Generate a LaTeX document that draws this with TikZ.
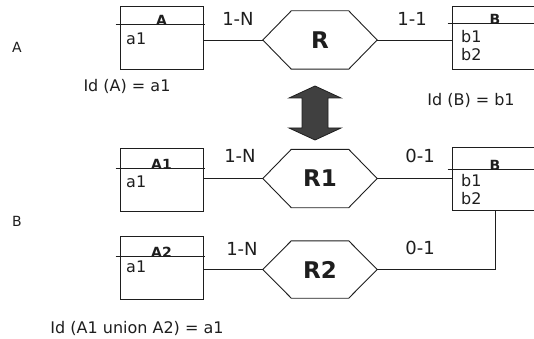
\documentclass[tikz,border=0pt]{standalone}
\usepackage{fontspec}
\setmainfont{DejaVu Sans}
\usetikzlibrary{calc}
\definecolor{ink}{HTML}{1e1e1e}
\begin{document}
\begin{tikzpicture}[x=1pt,y=-1pt,
  every node/.style={text=ink,inner sep=0pt},
  line/.style={draw=ink,line width=0.9pt},
  entbox/.style={line,minimum width=83pt,minimum height=63pt},
  entbig/.style={line,minimum width=86pt,minimum height=63pt},
  reln/.style={minimum width=114pt,minimum height=58pt,font=\fontsize{23}{23}\selectfont\bfseries},
  etitle/.style={anchor=base,font=\fontsize{14}{14}\selectfont\bfseries},
  attr/.style={anchor=west,align=left,font=\fontsize{16}{18}\selectfont},
  card/.style={font=\fontsize{18}{18}\selectfont},
  plain/.style={font=\fontsize{16}{16}\selectfont},
  side/.style={font=\fontsize{14}{14}\selectfont}]
\useasboundingbox (0,0) rectangle (534,339);

% ---------- part A ----------
\node[side] (lblA) at (17,47) {A};
\node[entbox] (A) at (161.5,37.5) {};
\draw[line] ([xshift=-4pt,yshift=-19pt]A.north west) -- ([xshift=2pt,yshift=-19pt]A.north east);
\node[etitle] (At) at ([yshift=-20pt]A.north) {A};
\node[attr] (Aa) at (126,38.5) {a1};

\node[reln] (R) at (320,40) {R};
\draw[line] (R.west) -- ([xshift=28.5pt]R.north west) -- ([xshift=-28.5pt]R.north east) -- (R.east) -- ([xshift=-28.5pt]R.south east) -- ([xshift=28.5pt]R.south west) -- cycle;

\node[entbig] (B) at (495,37.5) {};
\draw[line] ([xshift=-4pt,yshift=-18pt]B.north west) -- ([yshift=-18pt]B.north east);
\node[etitle] (Bt) at ([yshift=-19pt]B.north) {B};
\node[attr] (Bb) at (461,46) {b1\\b2};

\draw[line] (A.east |- R.west) -- (R.west);
\draw[line] (R.east) -- (B.west |- R.east);
\node[card] (c1) at (238,19) {1-N};
\node[card] (c2) at (412,19) {1-1};
\node[plain] (idA) at (127,86) {Id (A) = a1};
\node[plain] (idB) at (471,100) {Id (B) = b1};

% ---------- double arrow ----------
\coordinate (ut) at (315,86);
\coordinate (dt) at (315,140);
\filldraw[draw=ink,fill=ink!85,line width=0.8pt,line join=miter]
  (ut) -- (341,98) -- (328,98) -- (328,128) -- (341,128) -- (dt)
  -- (289,128) -- (302,128) -- (302,98) -- (289,98) -- cycle;

% ---------- part B ----------
\node[side] (lblB) at (17,221) {B};

\node[entbox] (A1) at (161.5,180) {};
\draw[line] ([xshift=-4pt,yshift=-20pt]A1.north west) -- ([xshift=2pt,yshift=-20pt]A1.north east);
\node[etitle] (A1t) at ([yshift=-21pt]A1.north) {A1};
\node[attr] (A1a) at (126,182) {a1};

\node[entbox] (A2) at (161.5,268) {};
\draw[line] ([xshift=-4pt,yshift=-20pt]A2.north west) -- ([xshift=2pt,yshift=-20pt]A2.north east);
\node[etitle] (A2t) at ([yshift=-21pt]A2.north) {A2};
\node[attr] (A2a) at (126,267) {a1};

\node[reln] (R1) at (320,178.5) {R1};
\draw[line] (R1.west) -- ([xshift=28.5pt]R1.north west) -- ([xshift=-28.5pt]R1.north east) -- (R1.east) -- ([xshift=-28.5pt]R1.south east) -- ([xshift=28.5pt]R1.south west) -- cycle;

\node[reln,minimum height=57pt] (R2) at (320,269.5) {R2};
\draw[line] (R2.west) -- ([xshift=28.5pt]R2.north west) -- ([xshift=-28.5pt]R2.north east) -- (R2.east) -- ([xshift=-28.5pt]R2.south east) -- ([xshift=28.5pt]R2.south west) -- cycle;

\node[entbig] (B2) at (495,179) {};
\draw[line] ([xshift=-4pt,yshift=-22pt]B2.north west) -- ([yshift=-22pt]B2.north east);
\node[etitle] (B2t) at ([yshift=-23pt]B2.north) {B};
\node[attr] (B2b) at (461,190) {b1\\b2};

\draw[line] (A1.east |- R1.west) -- (R1.west);
\draw[line] (R1.east) -- (B2.west |- R1.east);
\draw[line] (A2.east |- R2.west) -- (R2.west);
\draw[line] (R2.east) -- (B2.south |- R2.east) -- (B2.south);

\node[card] (c3) at (240,156) {1-N};
\node[card] (c4) at (420,156) {0-1};
\node[card] (c5) at (242,249) {1-N};
\node[card] (c6) at (420,248) {0-1};
\node[plain] (idU) at (137,328) {Id (A1 union A2) = a1};
\end{tikzpicture}
\end{document}
